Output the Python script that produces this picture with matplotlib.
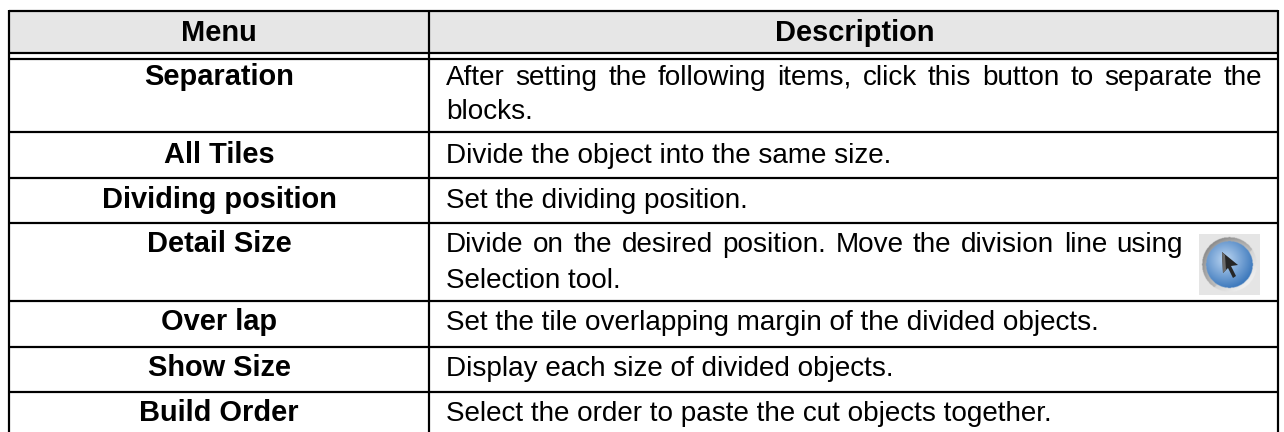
import numpy as np
import matplotlib
matplotlib.use('Agg')
import matplotlib.pyplot as plt
from matplotlib.patches import Rectangle, Circle, Polygon

plt.rcParams['font.family'] = ['Liberation Sans', 'DejaVu Sans']

header = ['Menu', 'Description']
menus = ['Separation', 'All Tiles', 'Dividing position', 'Detail Size',
         'Over lap', 'Show Size', 'Build Order']
descriptions = [
    ['After setting the following items, click this button to separate the', 'blocks.'],
    ['Divide the object into the same size.'],
    ['Set the dividing position.'],
    ['Divide on the desired position. Move the division line using', 'Selection tool.'],
    ['Set the tile overlapping margin of the divided objects.'],
    ['Display each size of divided objects.'],
    ['Select the order to paste the cut objects together.'],
]
row_lines = [132, 178, 223, 301, 347, 392]
# baseline de cada fila, y hasta donde se justifica la primera linea
baselines = [85, 163, 208, 252, 330, 376, 421]
second_line = [119, None, None, 288, None, None, None]
justify_to = [1262, None, None, 1183, None, None, None]

W, H = 1284, 432
LEFT, MID, RIGHT = 9, 429, 1278
TOP, HEAD_BOT, BODY_TOP, BOTTOM = 11, 52.5, 58.5, 432
LW = 2.2 * 72 / 100
FS_BOLD = 20.9
FS = 20.1
TEXT_X = 446

fig = plt.figure(figsize=(W / 100, H / 100), dpi=100)
ax = fig.add_axes([0, 0, 1, 1])
ax.set_xlim(0, W)
ax.set_ylim(H, 0)
ax.axis('off')


def texto_justificado(linea, x0, x1, y):
    # coloca palabra por palabra para llegar hasta x1
    renderer = fig.canvas.get_renderer()
    palabras = linea.split(' ')
    objs = [ax.text(0, y, p, ha='left', va='baseline', fontsize=FS) for p in palabras]
    anchos = [t.get_window_extent(renderer).width for t in objs]
    hueco = (x1 - x0 - sum(anchos)) / (len(palabras) - 1)
    x = x0
    for t, ancho in zip(objs, anchos):
        t.set_x(x)
        x += ancho + hueco


# cabecera
ax.add_patch(Rectangle((LEFT, TOP), RIGHT - LEFT, HEAD_BOT - TOP, color='#e6e6e6', lw=0))
for y in [TOP, HEAD_BOT, BODY_TOP] + row_lines:
    ax.plot([LEFT, RIGHT], [y, y], color='black', lw=LW, solid_capstyle='butt')
for x in [LEFT, MID, RIGHT]:
    ax.plot([x, x], [TOP - 1, BOTTOM], color='black', lw=LW, solid_capstyle='butt')

ax.text((LEFT + MID) / 2, 41, header[0], ha='center', va='baseline', fontsize=FS_BOLD, fontweight='bold')
ax.text((MID + RIGHT) / 2 + 1, 41, header[1], ha='center', va='baseline', fontsize=FS_BOLD, fontweight='bold')

for i, menu in enumerate(menus):
    ax.text((LEFT + MID) / 2, baselines[i], menu, ha='center', va='baseline',
            fontsize=FS_BOLD, fontweight='bold')
    desc = descriptions[i]
    if justify_to[i]:
        texto_justificado(desc[0], TEXT_X, justify_to[i], baselines[i])
    else:
        ax.text(TEXT_X, baselines[i], desc[0], ha='left', va='baseline', fontsize=FS)
    if second_line[i]:
        ax.text(TEXT_X, second_line[i], desc[1], ha='left', va='baseline', fontsize=FS)

# icono del cursor
ix0, ix1, iy0, iy1 = 1199, 1260, 234, 295
cx, cy = 1229.5, 264.5
px, py = np.meshgrid(np.linspace(ix0, ix1, 122), np.linspace(iy0, iy1, 122))
dist = np.hypot(px - cx, py - cy)
# aro: gris arriba a la izquierda, claro abajo a la derecha
lado = ((px - cx) + (py - cy)) / 38
ring = np.clip(0.80 + 0.14 * lado, 0.6, 0.97)
img = np.dstack([np.full_like(px, 0.90)] * 3)
aro = dist < 27.5
for c in range(3):
    img[..., c][aro] = ring[aro]
borde = (dist > 23.5) & (dist < 27.5) & (lado < 0.2)
for c in range(3):
    img[..., c][borde] = (ring - 0.12 * (dist - 20) / 7)[borde]
# centro azul: claro en el medio, oscuro abajo a la derecha
d2 = np.clip(np.hypot(px - cx + 4, py - cy + 5) / 30, 0, 1)
azul = dist < 23.5
img[..., 0][azul] = (0.74 - 0.52 * d2)[azul]
img[..., 1][azul] = (0.84 - 0.38 * d2)[azul]
img[..., 2][azul] = (0.95 - 0.22 * d2)[azul]
ax.imshow(img, extent=(ix0, ix1, iy1, iy0), zorder=2, interpolation='bilinear')
ax.set_xlim(0, W)
ax.set_ylim(H, 0)

ax.add_patch(Polygon([(1222, 252), (1223, 273), (1228, 268), (1233, 278), (1236, 276),
                      (1231, 266), (1238, 265)], color='#262626', lw=0, zorder=5))
ax.add_patch(Polygon([(1222, 252), (1223, 273), (1226, 270), (1225, 255)],
                     color='#6b6b6b', lw=0, zorder=6))

fig.savefig('out.png', dpi=100)
